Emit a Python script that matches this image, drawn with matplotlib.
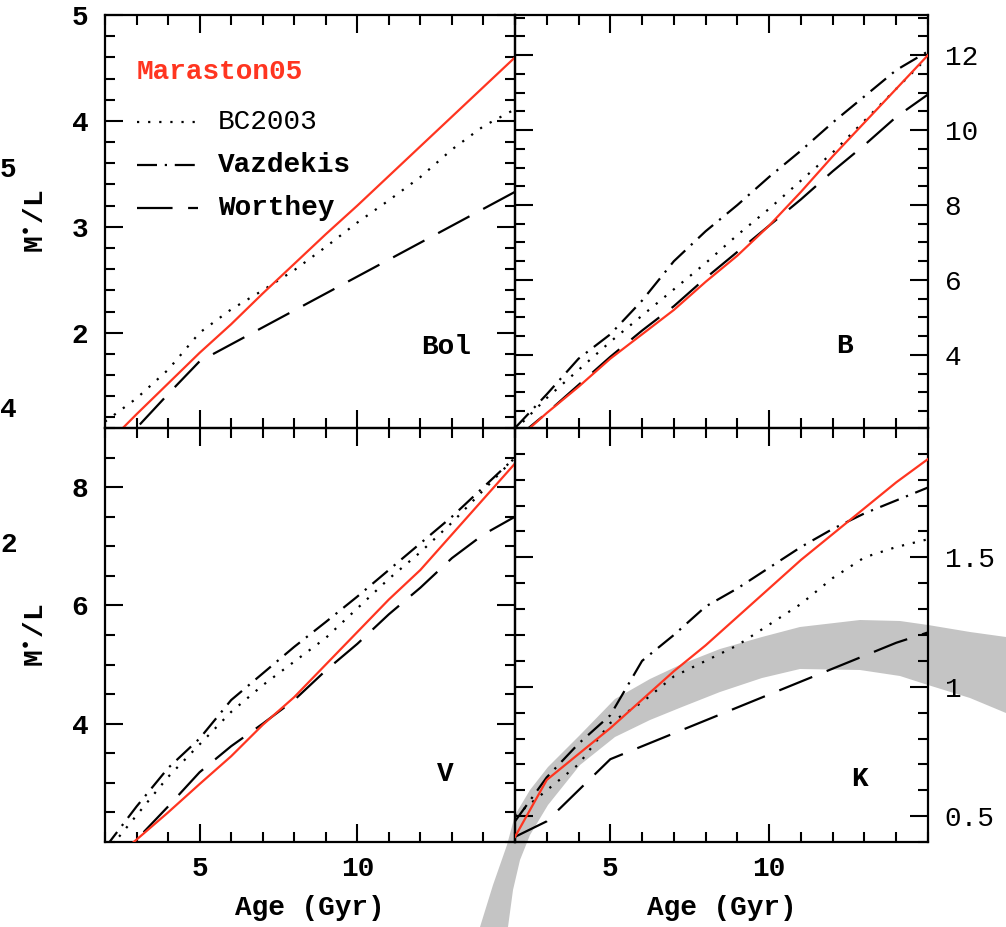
import matplotlib
matplotlib.use("Agg")
import matplotlib.pyplot as plt
from matplotlib.ticker import MultipleLocator, FixedLocator, FuncFormatter
from matplotlib.patches import Polygon

plt.rcParams['font.family'] = ['Liberation Mono', 'DejaVu Sans']
plt.rcParams['mathtext.fontset'] = 'dejavusans'

# ---------------- data ----------------
ages = [2, 3, 4, 5, 6, 7, 8, 9, 10, 11, 12, 13, 14, 15]

bol_maraston = [0.93, 1.23, 1.52, 1.81, 2.08, 2.37, 2.65, 2.93, 3.20, 3.48, 3.76, 4.04, 4.32, 4.60]
bol_bc2003   = [1.16, 1.38, 1.65, 2.00, 2.22, 2.40, 2.59, 2.81, 3.04, 3.25, 3.47, 3.73, 3.95, 4.11]
bol_worthey  = [0.78, 1.10, 1.42, 1.73, 1.89, 2.05, 2.21, 2.37, 2.53, 2.69, 2.85, 3.01, 3.17, 3.33]

b_maraston = [1.70, 2.45, 3.15, 3.90, 4.55, 5.20, 5.95, 6.65, 7.45, 8.35, 9.30, 10.20, 11.10, 12.00]
b_bc2003   = [2.00, 2.85, 3.60, 4.35, 5.05, 5.75, 6.45, 7.20, 7.90, 8.65, 9.40, 10.25, 11.10, 11.95]
b_vazdekis = [2.05, 2.95, 3.90, 4.55, 5.45, 6.50, 7.30, 8.00, 8.75, 9.45, 10.20, 10.90, 11.60, 12.10]
b_worthey  = [1.75, 2.45, 3.20, 3.95, 4.65, 5.30, 6.05, 6.75, 7.45, 8.15, 8.90, 9.60, 10.35, 10.95]

v_maraston = [1.60, 2.04, 2.50, 2.98, 3.45, 3.98, 4.45, 5.00, 5.55, 6.10, 6.60, 7.20, 7.80, 8.40]
v_bc2003   = [1.80, 2.45, 3.10, 3.65, 4.20, 4.65, 5.05, 5.45, 5.95, 6.45, 6.90, 7.40, 7.95, 8.50]
v_vazdekis = [1.90, 2.60, 3.25, 3.75, 4.40, 4.85, 5.30, 5.72, 6.15, 6.60, 7.05, 7.50, 8.00, 8.50]
v_worthey  = [1.60, 2.04, 2.60, 3.18, 3.62, 4.00, 4.40, 4.90, 5.35, 5.85, 6.30, 6.80, 7.20, 7.50]

k_maraston = [0.42, 0.64, 0.74, 0.84, 0.95, 1.06, 1.16, 1.27, 1.38, 1.49, 1.59, 1.69, 1.79, 1.88]
k_bc2003   = [0.50, 0.60, 0.70, 0.86, 0.94, 1.04, 1.10, 1.16, 1.24, 1.32, 1.42, 1.50, 1.54, 1.57]
k_vazdekis = [0.48, 0.65, 0.78, 0.89, 1.10, 1.20, 1.31, 1.38, 1.46, 1.54, 1.61, 1.67, 1.72, 1.77]
k_worthey  = [0.42, 0.48, 0.60, 0.72, 0.77, 0.82, 0.87, 0.92, 0.97, 1.02, 1.07, 1.12, 1.17, 1.21]

series_names = ["Maraston05", "BC2003", "Vazdekis", "Worthey"]
band_names = ["Bol", "B", "V", "K"]

# ---------------- styles ----------------
RED = '#ff3520'
styles = {
    "Maraston05": dict(color=RED, lw=1.6, ls='-'),
    "BC2003": dict(color='black', lw=1.6, ls=(0, (1, 4))),
    "Vazdekis": dict(color='black', lw=1.6, ls=(0, (9, 3.5, 1, 3.5))),
    "Worthey": dict(color='black', lw=1.6, ls=(0, (16, 7))),
}

W, H = 1006, 927
fig = plt.figure(figsize=(W / 100, H / 100), dpi=100)

# background decoration: grey arc from an overlapping figure
bg = fig.add_axes([0, 0, 1, 1], zorder=0)
bg.set_xlim(0, W)
bg.set_ylim(H, 0)
bg.axis('off')
upper = [(480, 927), (493, 885), (507, 845), (515, 815), (530, 790), (548, 767), (580, 735),
         (615, 699), (650, 679), (682, 664), (720, 649), (762, 637), (800, 627), (860, 620),
         (900, 621), (928, 625), (970, 632), (1006, 637)]
lower = [(1006, 713), (970, 698), (928, 685), (900, 676), (860, 670), (800, 669), (762, 678),
         (720, 692), (682, 707), (650, 720), (615, 737), (580, 765), (548, 805), (530, 835),
         (520, 860), (513, 890), (508, 927)]
bg.add_patch(Polygon(upper + lower, closed=True, facecolor='#c4c4c4', edgecolor='none'))

def px_rect(x0, y0, x1, y1):
    return [x0 / W, 1 - y1 / H, (x1 - x0) / W, (y1 - y0) / H]

rects = {
    "Bol": px_rect(105, 15, 515, 428),
    "B": px_rect(515, 15, 928, 428),
    "V": px_rect(105, 428, 515, 842),
    "K": px_rect(515, 428, 928, 842),
}
ylims = {"Bol": (1.1, 5.0), "B": (2.05, 13.07), "V": (2.0, 9.0), "K": (0.4, 2.0)}
majors = {"Bol": [2, 3, 4, 5], "B": [4, 6, 8, 10, 12], "V": [4, 6, 8], "K": [0.5, 1.0, 1.5]}
minors = {"Bol": 0.2, "B": 0.5, "V": 0.5, "K": 0.1}
label_pos = {"Bol": (0.832, 0.196), "B": (0.797, 0.199), "V": (0.829, 0.164), "K": (0.833, 0.152)}

data = {
    "Bol": {"Maraston05": bol_maraston, "BC2003": bol_bc2003, "Worthey": bol_worthey},
    "B": {"Maraston05": b_maraston, "BC2003": b_bc2003, "Vazdekis": b_vazdekis, "Worthey": b_worthey},
    "V": {"Maraston05": v_maraston, "BC2003": v_bc2003, "Vazdekis": v_vazdekis, "Worthey": v_worthey},
    "K": {"Maraston05": k_maraston, "BC2003": k_bc2003, "Vazdekis": k_vazdekis, "Worthey": k_worthey},
}

def yfmt(v, pos):
    if abs(v - round(v)) < 1e-6:
        return "%d" % round(v)
    return "%g" % v

TFS = 20
for band in band_names:
    ax = fig.add_axes(rects[band], zorder=1)
    ax.patch.set_alpha(0)
    for name in ["Worthey", "Vazdekis", "BC2003", "Maraston05"]:
        if name in data[band]:
            ax.plot(ages, data[band][name], **styles[name], zorder=3 if name == "Maraston05" else 2)
    ax.set_xlim(2, 15)
    ax.set_ylim(*ylims[band])
    ax.xaxis.set_major_locator(FixedLocator([5, 10]))
    ax.xaxis.set_minor_locator(MultipleLocator(1))
    ax.yaxis.set_major_locator(FixedLocator(majors[band]))
    ax.yaxis.set_minor_locator(MultipleLocator(minors[band]))
    ax.yaxis.set_major_formatter(FuncFormatter(yfmt))
    for s in ax.spines.values():
        s.set_linewidth(1.6)
    ax.tick_params(which='both', direction='in', top=True, right=True, width=1.5,
                   labelsize=TFS)
    ax.tick_params(which='major', length=13)
    ax.tick_params(which='minor', length=7)
    ax.tick_params(axis='x', pad=10)
    ax.tick_params(axis='y', pad=12)
    for lab in ax.get_xticklabels() + ax.get_yticklabels():
        lab.set_fontweight('bold')
    right = band in ("B", "K")
    bottom = band in ("V", "K")
    ax.tick_params(axis='y', labelleft=not right, labelright=right)
    ax.tick_params(axis='x', labelbottom=bottom)
    if not right:
        ax.set_ylabel(r"M$^{\bullet}$/L", fontsize=TFS, fontweight='bold')
        ax.yaxis.set_label_coords(-0.134, 0.5)
    if bottom:
        ax.set_xlabel("Age (Gyr)", fontsize=TFS, fontweight='bold')
        ax.xaxis.set_label_coords(0.5, -0.128)
    ax.text(*label_pos[band], band, transform=ax.transAxes, fontsize=TFS,
            fontweight='bold', ha='center', va='center')

    if band == "Bol":
        ax.text(0.078, 0.862, "Maraston05", color=RED, transform=ax.transAxes,
                fontsize=TFS, fontweight='bold', ha='left', va='center')
        for name, yy, wt in [("BC2003", 0.741, 'normal'), ("Vazdekis", 0.637, 'bold'),
                             ("Worthey", 0.533, 'bold')]:
            ax.plot([0.078, 0.227], [yy, yy], transform=ax.transAxes, **styles[name])
            ax.text(0.276, yy, name, transform=ax.transAxes, fontsize=TFS,
                    fontweight=wt, ha='left', va='center')

# stray partial labels from a neighbouring figure at the far left
for txt, ypx in [("5", 170), ("4", 410), ("2", 545)]:
    fig.text(0.0, 1 - ypx / H, txt, fontsize=TFS, fontweight='bold',
             ha='left', va='center')

fig.savefig("out.png", dpi=100)
